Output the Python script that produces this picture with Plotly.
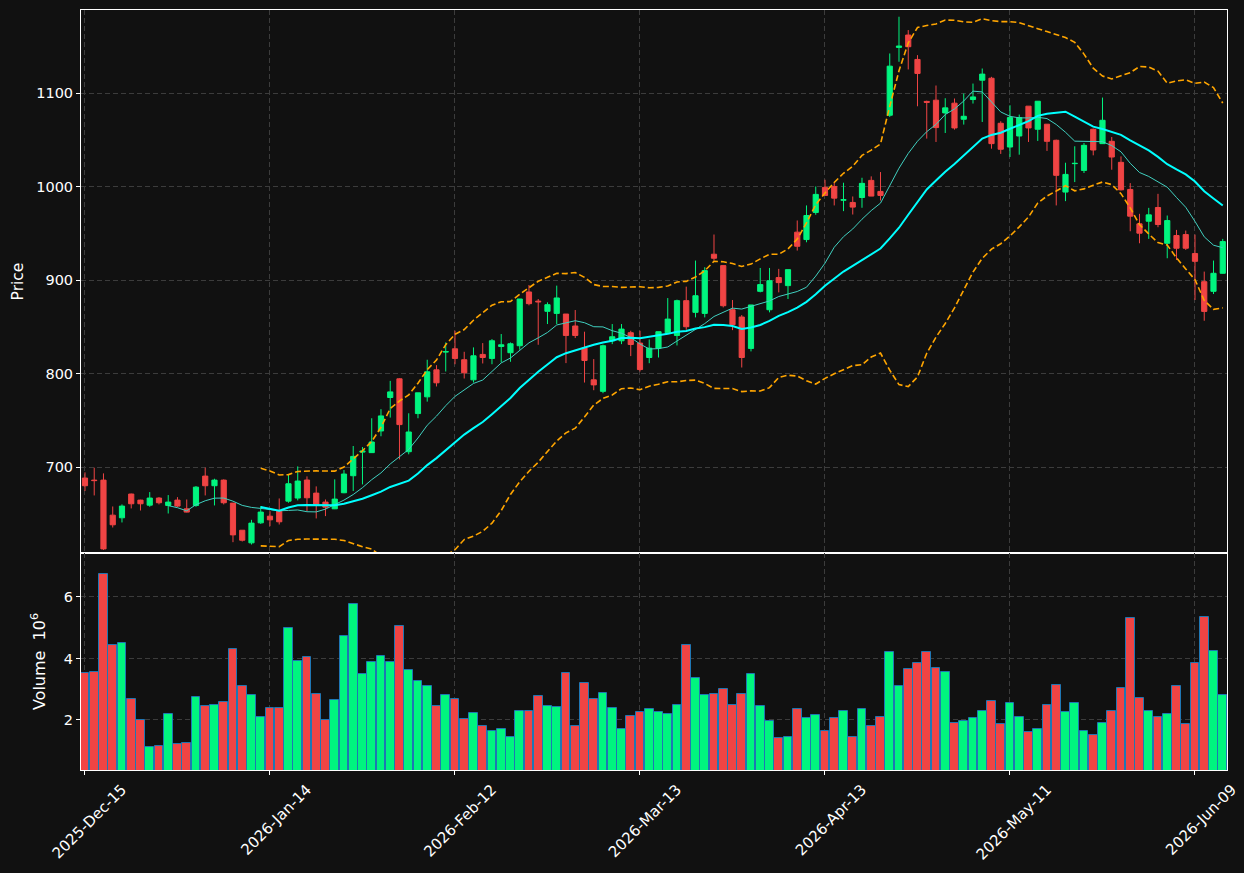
import pandas as pd
import plotly.graph_objects as go

tick_idx = [0, 20, 40, 60, 80, 100, 120]
tick_labels = ["2025-Dec-15", "2026-Jan-14", "2026-Feb-12", "2026-Mar-13",
               "2026-Apr-13", "2026-May-11", "2026-Jun-09"]

opens = [688.2, 686.0, 686.0, 648.5, 645.7, 671.1, 664.6, 659.2, 666.8, 658.9,
         664.6, 655.3, 658.9, 690.3, 680.0, 686.0, 661.4, 632.4, 618.9, 640.3,
         647.4, 653.5, 663.5, 666.8, 686.1, 672.1, 662.5, 655.3, 672.5, 690.7,
         716.0, 715.4, 738.6, 774.4, 794.4, 716.4, 757.2, 775.1, 804.0, 823.0,
         826.5, 814.8, 793.3, 820.5, 816.2, 829.0, 822.3, 829.8, 887.3, 877.5,
         866.6, 864.4, 863.7, 850.9, 827.3, 793.3, 781.0, 835.1, 835.1, 843.7,
         832.6, 817.2, 827.2, 843.7, 840.8, 878.0, 865.5, 864.4, 927.7, 915.5,
         868.3, 860.5, 826.9, 888.0, 868.3, 902.7, 894.1, 951.3, 943.4, 972.4,
         999.2, 1000.2, 985.5, 983.1, 988.4, 1006.7, 994.9, 1076.4, 1149.0, 1162.2,
         1136.1, 1091.2, 1092.5, 1078.9, 1089.3, 1072.1, 1093.2, 1113.9, 1116.0, 1067.8,
         1042.4, 1054.2, 1086.1, 1061.4, 1066.8, 1049.6, 994.2, 1024.6, 1017.4, 1061.4,
         1046.0, 1048.5, 1026.0, 997.0, 960.2, 963.0, 977.7, 939.4, 947.7, 948.7,
         928.4, 898.3, 888.0, 907.3]
highs = [694.3, 699.3, 693.2, 657.8, 660.0, 671.5, 665.0, 673.2, 667.8, 670.0,
         667.8, 665.3, 679.6, 699.3, 687.5, 686.8, 661.4, 632.4, 643.5, 658.2,
         652.8, 666.4, 692.1, 700.7, 690.0, 679.3, 665.3, 686.8, 696.8, 722.5,
         721.4, 752.2, 761.9, 792.2, 795.0, 757.5, 779.4, 814.8, 809.0, 833.3,
         845.8, 823.3, 828.0, 832.6, 836.9, 842.3, 833.3, 879.8, 894.8, 879.8,
         876.2, 894.1, 863.7, 868.0, 844.8, 815.5, 831.0, 853.0, 853.0, 845.8,
         845.8, 836.5, 844.8, 880.8, 879.1, 893.0, 920.9, 913.8, 948.8, 915.5,
         878.7, 862.6, 873.4, 913.0, 913.0, 912.0, 911.2, 963.8, 979.9, 1000.2,
         1007.4, 1004.9, 1004.2, 989.5, 1009.5, 1011.0, 1015.6, 1142.5, 1181.8, 1167.5,
         1140.7, 1092.0, 1108.2, 1094.6, 1094.3, 1099.6, 1110.3, 1126.4, 1117.5, 1070.0,
         1087.1, 1077.1, 1086.1, 1091.4, 1066.8, 1050.3, 1025.6, 1043.2, 1046.7, 1062.1,
         1095.3, 1053.1, 1032.4, 1003.8, 970.9, 977.3, 992.3, 969.1, 953.7, 953.0,
         948.7, 909.1, 920.9, 944.1]
lows = [674.3, 669.6, 611.3, 635.3, 640.7, 655.7, 653.5, 657.5, 660.0, 650.3,
        657.1, 651.5, 657.5, 669.6, 658.9, 660.0, 619.6, 620.3, 617.1, 639.2,
        636.7, 638.5, 661.8, 664.3, 652.8, 645.0, 647.5, 655.0, 672.0, 674.3,
        681.4, 715.0, 732.9, 752.9, 708.2, 713.6, 752.2, 770.0, 786.2, 802.2,
        810.0, 794.7, 790.4, 810.8, 810.0, 811.9, 812.6, 825.5, 873.0, 830.8,
        853.0, 853.0, 811.2, 838.0, 790.4, 782.2, 779.0, 831.5, 831.5, 818.7,
        802.2, 811.1, 817.2, 842.3, 830.1, 846.9, 860.1, 860.1, 920.9, 870.8,
        846.5, 806.5, 823.7, 886.9, 865.5, 886.9, 879.8, 931.6, 940.5, 969.9,
        990.4, 979.9, 973.8, 970.2, 977.4, 989.9, 985.2, 1074.6, 1133.6, 1125.4,
        1086.0, 1051.4, 1047.8, 1057.4, 1061.0, 1066.4, 1088.9, 1069.2, 1040.6, 1035.0,
        1031.7, 1034.2, 1047.8, 1048.9, 1038.2, 979.9, 984.5, 1004.9, 1014.6, 1033.5,
        1046.0, 1018.1, 995.9, 952.3, 939.4, 944.1, 956.6, 923.4, 921.6, 932.3,
        878.7, 856.5, 885.1, 907.0]
closes = [680.0, 685.5, 612.4, 638.2, 658.2, 660.7, 660.7, 666.8, 661.8, 662.5,
          658.2, 651.8, 678.5, 680.0, 686.0, 661.8, 627.4, 621.7, 640.0, 651.8,
          643.5, 641.4, 682.1, 685.0, 667.1, 660.0, 657.1, 665.7, 692.5, 711.4,
          717.0, 726.8, 754.7, 780.4, 745.4, 737.5, 779.4, 801.9, 790.1, 823.5,
          816.2, 800.8, 819.0, 817.2, 835.1, 830.8, 831.9, 879.8, 874.8, 876.8,
          873.7, 880.9, 840.8, 840.8, 814.0, 787.9, 829.8, 839.4, 847.6, 831.1,
          804.3, 827.2, 844.8, 858.3, 878.0, 850.1, 883.3, 910.2, 923.4, 872.6,
          852.3, 817.2, 873.4, 895.2, 899.4, 897.3, 911.2, 936.2, 969.1, 991.7,
          990.6, 987.7, 986.0, 978.1, 1003.5, 989.9, 990.6, 1128.9, 1150.4, 1149.7,
          1121.1, 1090.2, 1063.2, 1084.3, 1062.8, 1075.3, 1096.0, 1120.4, 1046.0, 1040.0,
          1073.9, 1073.9, 1062.8, 1091.4, 1048.5, 1012.1, 1013.1, 1024.9, 1044.2, 1039.2,
          1071.0, 1031.7, 996.6, 968.4, 950.2, 969.8, 959.5, 963.7, 934.1, 934.1,
          920.1, 866.5, 907.3, 941.2]
volume_m = [3.54, 3.57, 6.75, 4.43, 4.49, 2.69, 2.00, 1.11, 1.15, 2.20,
            1.21, 1.25, 2.75, 2.46, 2.49, 2.59, 4.30, 3.11, 2.82, 2.10,
            2.39, 2.39, 4.98, 3.90, 4.03, 2.85, 2.00, 2.66, 4.72, 5.77,
            3.48, 3.87, 4.07, 3.87, 5.05, 3.61, 3.28, 3.11, 2.46, 2.82,
            2.69, 2.03, 2.23, 1.80, 1.64, 1.70, 1.44, 2.30, 2.30, 2.79,
            2.46, 2.43, 3.54, 1.80, 3.21, 2.69, 2.89, 2.39, 1.70, 2.13,
            2.26, 2.36, 2.26, 2.20, 2.50, 4.45, 3.35, 2.80, 2.85, 3.00,
            2.50, 2.85, 3.50, 2.45, 1.95, 1.40, 1.45, 2.35, 2.05, 2.15,
            1.65, 2.05, 2.30, 1.45, 2.35, 1.80, 2.10, 4.20, 3.10, 3.65,
            3.85, 4.20, 3.70, 3.55, 1.90, 1.95, 2.05, 2.30, 2.60, 1.85,
            2.55, 2.10, 1.60, 1.70, 2.50, 3.15, 2.25, 2.55, 1.65, 1.50,
            1.90, 2.30, 3.05, 5.30, 2.70, 2.30, 2.10, 2.20, 3.10, 1.85,
            3.85, 5.35, 4.25, 2.80]

UP = "#00f57f"
DOWN = "#f04444"
BG = "#111111"
GRID = "#3c3c3c"

idx = list(range(len(closes)))
cs = pd.Series(closes)
ma10 = cs.rolling(10).mean()
ma20 = cs.rolling(20).mean()
sd20 = cs.rolling(20).std()
bb_up = ma20 + 2 * sd20
bb_lo = ma20 - 2 * sd20
vol_colors = [UP if c >= o else DOWN for o, c in zip(opens, closes)]

fig = go.Figure()
fig.add_trace(go.Candlestick(
    x=idx, open=opens, high=highs, low=lows, close=closes,
    increasing=dict(line=dict(color=UP, width=1), fillcolor=UP),
    decreasing=dict(line=dict(color=DOWN, width=1), fillcolor=DOWN),
    whiskerwidth=0, xaxis="x", yaxis="y", showlegend=False))
fig.add_trace(go.Scatter(x=idx, y=ma10, mode="lines",
                         line=dict(color="#40d0c0", width=1), xaxis="x", yaxis="y", showlegend=False))
fig.add_trace(go.Scatter(x=idx, y=ma20, mode="lines",
                         line=dict(color="#00ffff", width=2), xaxis="x", yaxis="y", showlegend=False))
fig.add_trace(go.Scatter(x=idx, y=bb_up, mode="lines",
                         line=dict(color="#ffa500", width=1.6, dash="6px,3px"), xaxis="x", yaxis="y", showlegend=False))
fig.add_trace(go.Scatter(x=idx, y=bb_lo, mode="lines",
                         line=dict(color="#ffa500", width=1.6, dash="6px,3px"), xaxis="x", yaxis="y", showlegend=False))
fig.add_trace(go.Bar(x=idx, y=volume_m, marker=dict(color=vol_colors, line=dict(color="#1f77b4", width=1)),
                     width=0.95, xaxis="x2", yaxis="y2", showlegend=False))

font = dict(family="DejaVu Sans", size=15, color="white")
xr = [-0.43, 123.46]
common_x = dict(range=xr, showgrid=True, gridcolor=GRID, griddash="5px,3px", gridwidth=1,
                tickvals=tick_idx, zeroline=False, showline=True, linecolor="white",
                linewidth=1, mirror=True, automargin=False)
fig.update_layout(
    width=1244, height=873, paper_bgcolor=BG, plot_bgcolor=BG, font=font,
    margin=dict(l=81, r=17, t=10, b=103),
    boxgap=0.2,
    xaxis=dict(domain=[0, 1], anchor="y", showticklabels=False, ticks="",
               rangeslider=dict(visible=False), **common_x),
    yaxis=dict(domain=[0.2855, 1], range=[608, 1189], tickvals=[700, 800, 900, 1000, 1100],
               showgrid=True, gridcolor=GRID, griddash="5px,3px", zeroline=False,
               showline=True, linecolor="white", mirror=True, ticks="outside",
               ticklen=4, tickcolor="white", tickfont=dict(size=14.5), automargin=False,
               title=dict(text="Price", standoff=8, font=dict(size=15.5))),
    xaxis2=dict(domain=[0, 1], anchor="y2", matches="x", ticktext=tick_labels,
                tickangle=-45, ticks="outside", ticklen=4, tickcolor="white",
                tickfont=dict(size=15), ticklabelshift=37, **common_x),
    yaxis2=dict(domain=[0, 0.2855], range=[0.37, 7.43], tickvals=[2, 4, 6],
                showgrid=True, gridcolor=GRID, griddash="5px,3px", zeroline=False,
                showline=True, linecolor="white", mirror=True, ticks="outside",
                ticklen=4, tickcolor="white", tickfont=dict(size=14.5), automargin=False,
                title=dict(text="Volume  10<sup>6</sup>", standoff=14, font=dict(size=16))),
    bargap=0,
)
fig.write_html("out.html")
